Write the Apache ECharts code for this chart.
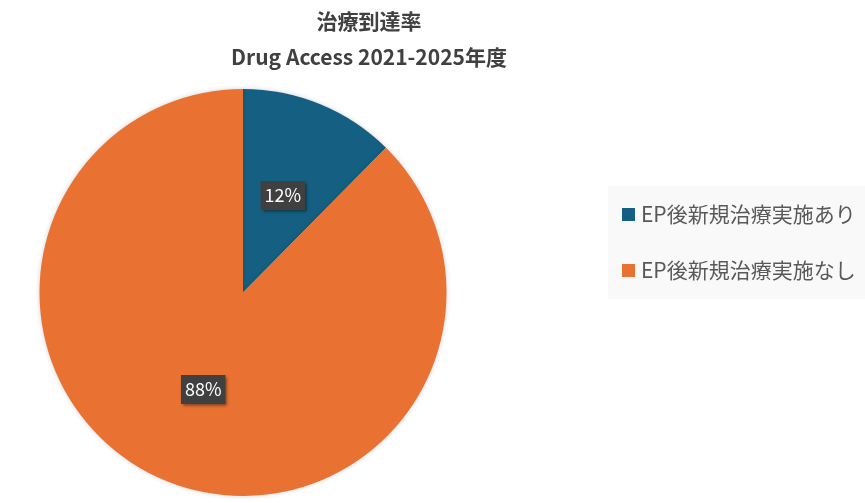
<!DOCTYPE html>
<html>
<head>
<meta charset="utf-8">
<script src="https://cdn.jsdelivr.net/npm/echarts@6/dist/echarts.min.js"></script>
<style>
html, body { margin: 0; padding: 0; background: #fff; }
#main { width: 865px; height: 503px; }
</style>
</head>
<body>
<div id="main"></div>
<script>
// 治療到達率のデータ
var categories = ['EP後新規治療実施あり', 'EP後新規治療実施なし'];
var values = [12.4, 87.6];
var colors = ['#156082', '#E97132'];

var font = '"Noto Sans CJK JP", "Noto Sans", sans-serif';
var chart = echarts.init(document.getElementById('main'));

chart.setOption({
    backgroundColor: '#ffffff',
    title: {
        text: '治療到達率\nDrug Access 2021-2025年度',
        left: 364,
        textAlign: 'center',
        top: -2,
        textStyle: {
            fontFamily: font,
            fontSize: 21,
            fontWeight: 'bold',
            color: '#404040',
            lineHeight: 36
        }
    },
    legend: {
        orient: 'vertical',
        left: 608,
        top: 186,
        padding: [18, 10, 18, 14],
        backgroundColor: '#f9f9f9',
        itemWidth: 13,
        itemHeight: 13,
        itemGap: 35,
        icon: 'rect',
        textStyle: {
            fontFamily: font,
            fontSize: 21,
            color: '#595959',
            padding: [0, 0, 0, 1]
        },
        data: categories
    },
    series: [{
        type: 'pie',
        center: [243, 292.5],
        radius: 203.5,
        startAngle: 90,
        clockwise: true,
        avoidLabelOverlap: false,
        itemStyle: {
            shadowBlur: 5,
            shadowColor: 'rgba(0,0,0,0.18)'
        },
        label: {
            show: true,
            position: 'inside',
            formatter: function (p) {
                return Math.round(p.percent) + '%';
            },
            fontFamily: font,
            fontSize: 18,
            color: '#ffffff',
            backgroundColor: '#404040',
            padding: [6, 4, 5, 4],
            shadowColor: 'rgba(0,0,0,0.5)',
            shadowBlur: 3,
            shadowOffsetX: 2,
            shadowOffsetY: 2
        },
        labelLine: { show: false },
        emphasis: { disabled: true },
        data: categories.map(function (name, i) {
            return { name: name, value: values[i], itemStyle: { color: colors[i] } };
        })
    }]
});
</script>
</body>
</html>
